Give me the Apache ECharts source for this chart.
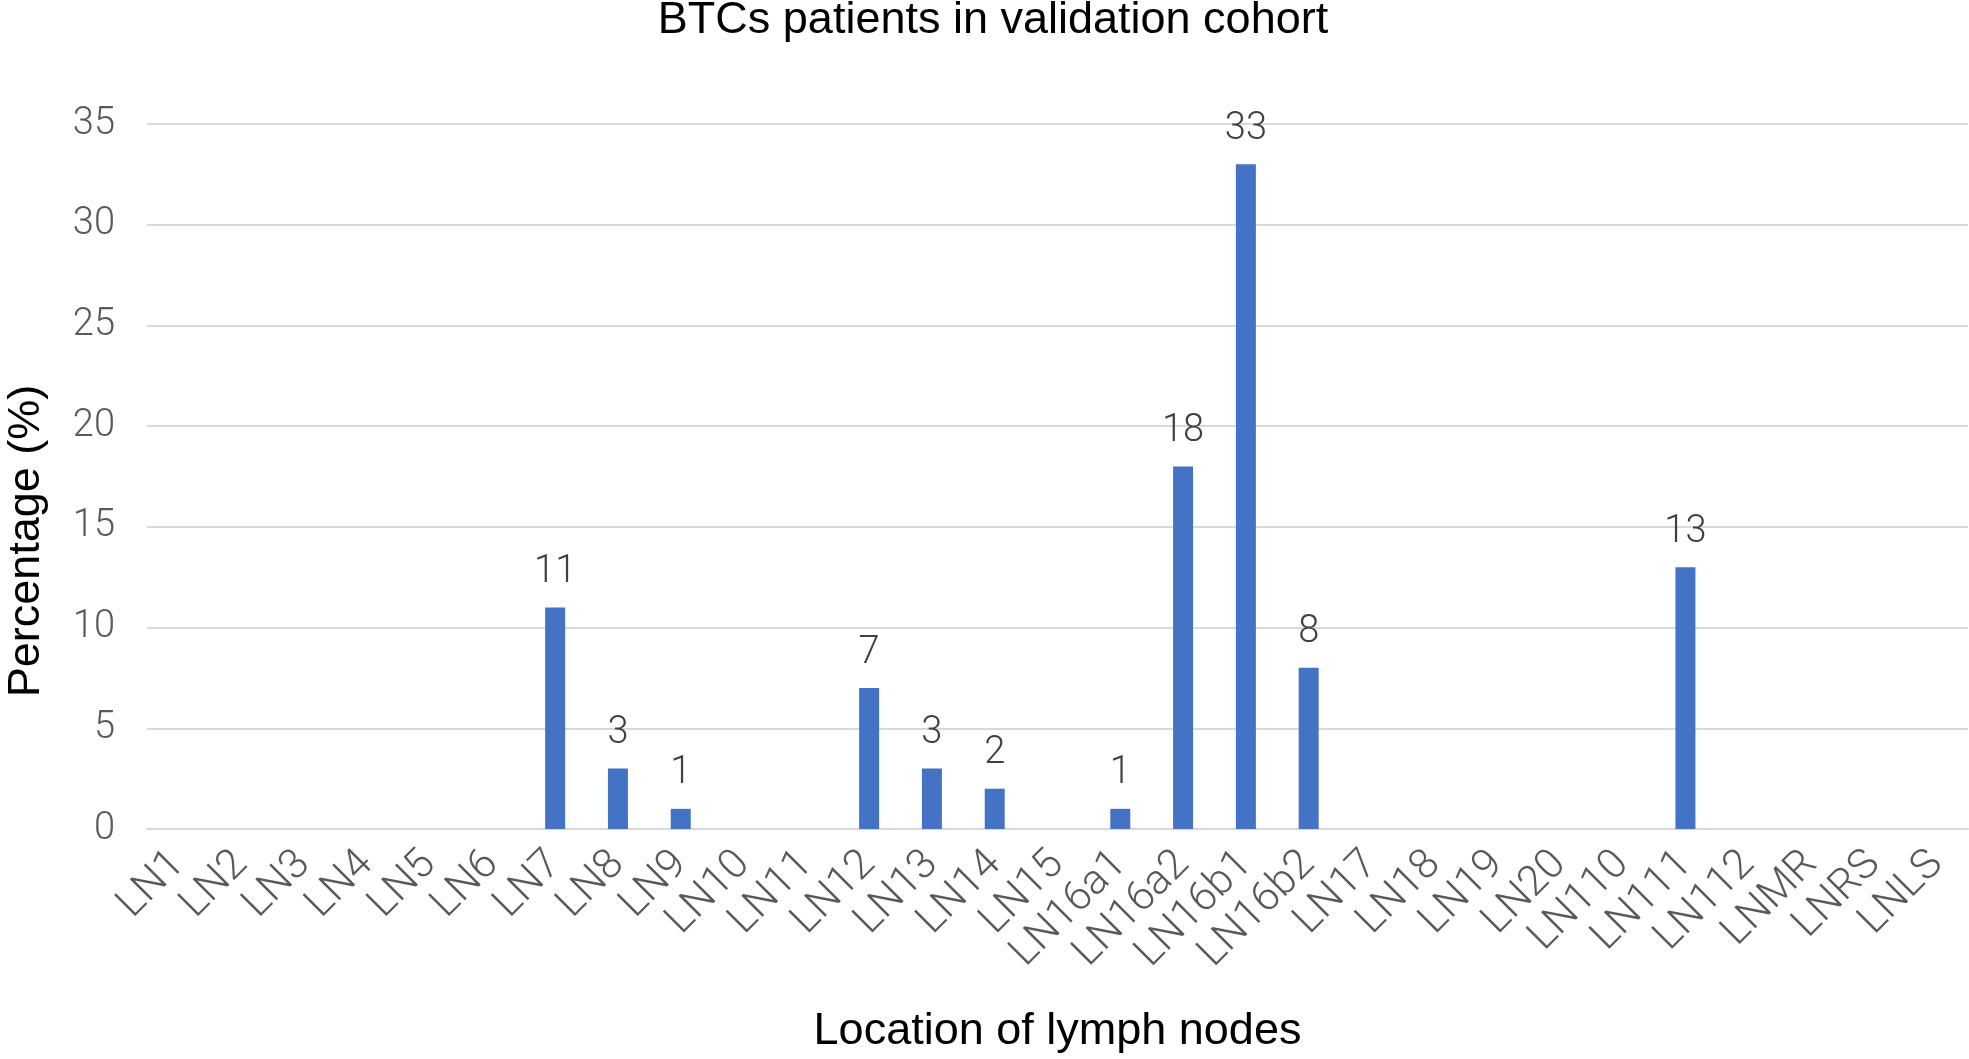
<!DOCTYPE html>
<html>
<head>
<meta charset="utf-8">
<script src="https://cdn.jsdelivr.net/npm/echarts@6/dist/echarts.min.js"></script>
<style>
html,body{margin:0;padding:0;background:#fff;}
#chart{width:1969px;height:1059px;}
</style>
</head>
<body>
<div id="chart"></div>
<script>
const categories = ['LN1','LN2','LN3','LN4','LN5','LN6','LN7','LN8','LN9','LN10','LN11','LN12','LN13','LN14','LN15','LN16a1','LN16a2','LN16b1','LN16b2','LN17','LN18','LN19','LN20','LN110','LN111','LN112','LNMR','LNRS','LNLS'];
const percentages = [0,0,0,0,0,0,11,3,1,0,0,7,3,2,0,1,18,33,8,0,0,0,0,0,13,0,0,0,0];
const yTicks = {min:0, max:35, interval:5};
const titleText = 'BTCs patients in validation cohort';
const xName = 'Location of lymph nodes';
const yName = 'Percentage (%)';

const light = "Roboto, 'Liberation Sans', sans-serif";
const sans = "'Liberation Sans', Arial, sans-serif";
const chart = echarts.init(document.getElementById('chart'));
chart.setOption({
  animation: false,
  backgroundColor: '#fff',
  title: {
    text: titleText, left: 988, top: -7, textAlign: 'center',
    textStyle: {fontFamily: sans, fontSize: 45, fontWeight: 'normal', color: '#000'}
  },
  grid: {left: 147, right: 1, top: 124, bottom: 229},
  xAxis: {
    type: 'category', data: categories,
    axisLine: {lineStyle: {color: '#D9D9D9', width: 2}},
    axisTick: {show: false},
    axisLabel: {rotate: 45, interval: 0, margin: 29, fontFamily: light, fontWeight: 300, fontSize: 42, color: '#595959'},
    name: xName, nameLocation: 'middle', nameGap: 180,
    nameTextStyle: {fontFamily: sans, fontSize: 45, color: '#000'}
  },
  yAxis: {
    type: 'value', min: yTicks.min, max: yTicks.max, interval: yTicks.interval,
    axisLine: {show: false}, axisTick: {show: false},
    axisLabel: {margin: 32, fontFamily: light, fontWeight: 300, fontSize: 38, color: '#595959'},
    splitLine: {lineStyle: {color: '#D9D9D9', width: 2}}
  },
  graphic: [{
    type: 'text', x: 27, y: 541, rotation: Math.PI / 2,
    style: {text: yName, font: "45px 'Liberation Sans', Arial, sans-serif", fill: '#000', textAlign: 'center', textVerticalAlign: 'middle'}
  }],
  series: [{
    type: 'bar', data: percentages, barWidth: 20,
    itemStyle: {color: '#4472C4'},
    label: {
      show: true, position: 'top', distance: 16,
      fontFamily: light, fontWeight: 300, fontSize: 38, color: '#404040',
      formatter: p => p.value === 0 ? '' : String(p.value)
    }
  }]
});
</script>
</body>
</html>
